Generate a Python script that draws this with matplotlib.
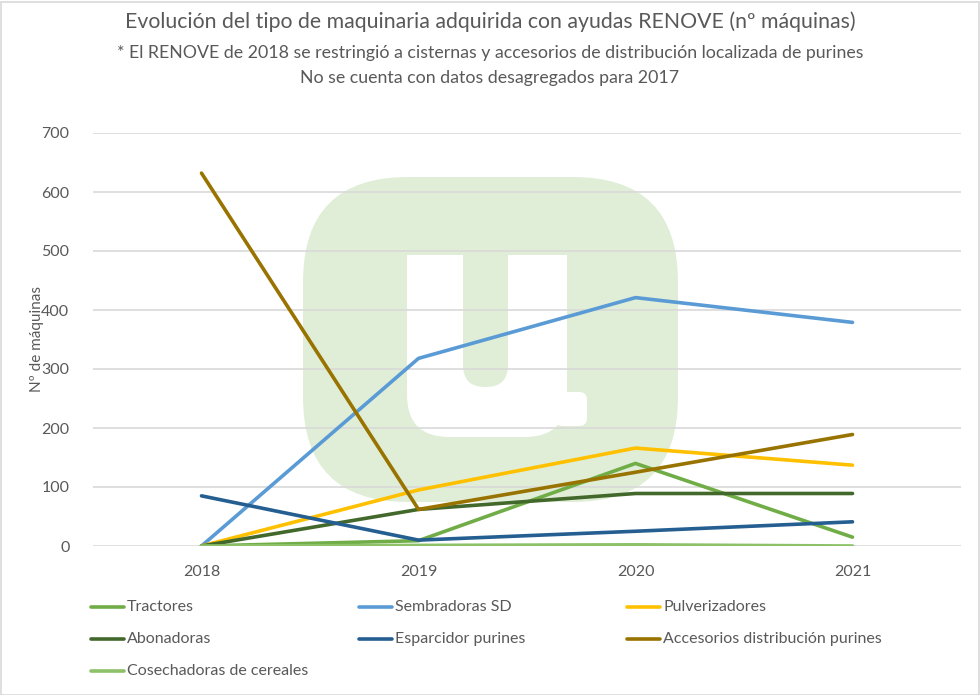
import matplotlib

matplotlib.use("Agg")
import matplotlib.pyplot as plt
from matplotlib.patches import FancyBboxPatch, Rectangle
from matplotlib.lines import Line2D
from matplotlib.transforms import IdentityTransform

years = ["2018", "2019", "2020", "2021"]

tractores = [0, 9, 140, 15]
sembradoras = [0, 318, 421, 379]
pulverizadores = [0, 95, 166, 137]
abonadoras = [0, 62, 89, 89]
esparcidor = [85, 10, 25, 41]
accesorios = [632, 62, 125, 189]
cosechadoras = [0, 1, 2, 0]

series = [
    ("Tractores", tractores, "#70AD47"),
    ("Sembradoras SD", sembradoras, "#5B9BD5"),
    ("Pulverizadores", pulverizadores, "#FFC000"),
    ("Abonadoras", abonadoras, "#43682B"),
    ("Esparcidor purines", esparcidor, "#255E91"),
    ("Accesorios distribución purines", accesorios, "#997300"),
    ("Cosechadoras de cereales", cosechadoras, "#8CC168"),
]

TXT = "#595959"
plt.rcParams["font.family"] = ["Lato", "DejaVu Sans"]

W, H = 980, 695
fig = plt.figure(figsize=(W / 100, H / 100), dpi=100)
ax = fig.add_axes([93 / W, 1 - 546 / H, (961 - 93) / W, (546 - 133) / H])
ax.patch.set_alpha(0)
ax.set_zorder(2)

ID = IdentityTransform()


def box(x0, y0, x1, y1, color, z, r=0):
    # image pixel box (y down) -> rounded patch in display coords
    x, y, w, h = x0, H - y1, x1 - x0, y1 - y0
    if r:
        p = FancyBboxPatch((x + r, y + r), w - 2 * r, h - 2 * r,
                           boxstyle=f"round,pad={r}", fc=color, ec="none",
                           transform=ID, zorder=z)
    else:
        p = Rectangle((x, y), w, h, fc=color, ec="none", transform=ID, zorder=z)
    fig.patches.append(p)


# faint logo watermark behind the plot
wm = "#E0EED8"
box(303, 177, 678, 502, wm, 0.0, r=105)
box(407, 205, 567, 437, "white", 0.1, r=42)
box(555, 392, 587, 426, "white", 0.1, r=8)
box(400, 195, 600, 255, wm, 0.2)
box(463, 230, 508, 387, wm, 0.3, r=22)

xs = list(range(len(years)))
for name, vals, col in series:
    ax.plot(xs, vals, color=col, lw=2.6, solid_capstyle="round",
            solid_joinstyle="round", zorder=3)

ax.set_xlim(-0.5, len(years) - 0.5)
ax.set_ylim(0, 700)
ax.set_yticks(range(0, 701, 100))
ax.set_xticks(xs)
ax.set_xticklabels(years)
ax.grid(axis="y", color="#D9D9D9", lw=1.2)
ax.set_axisbelow(True)
for s in ax.spines.values():
    s.set_visible(False)
ax.tick_params(length=0, labelsize=11.5, labelcolor=TXT)
ax.tick_params(axis="y", pad=17)
ax.tick_params(axis="x", pad=14)
ax.set_ylabel("Nº de máquinas", fontsize=11, color=TXT, labelpad=-2)

fig.text(0.5, 1 - 22 / H, "Evolución del tipo de maquinaria adquirida con ayudas RENOVE (nº máquinas)",
         ha="center", va="center", fontsize=15.3, color=TXT)
fig.text(0.5, 1 - 53 / H,
         "* El RENOVE de 2018 se restringió a cisternas y accesorios de distribución localizada de purines",
         ha="center", va="center", fontsize=12.8, color=TXT)
fig.text(0.5, 1 - 78 / H, "No se cuenta con datos desagregados para 2017",
         ha="center", va="center", fontsize=12.8, color=TXT)

# legend, three columns like Excel
col_x = [91, 359, 627]
row_y = [607, 639, 671]
for i, (name, vals, col) in enumerate(series):
    cx = col_x[i % 3]
    cy = H - row_y[i // 3]
    fig.add_artist(Line2D([cx, cx + 33], [cy, cy], color=col, lw=2.6,
                          solid_capstyle="round", transform=ID))
    fig.text((cx + 36) / W, cy / H, name, ha="left", va="center",
             fontsize=11.5, color=TXT)

fig.patches.append(Rectangle((0.5, 0.5), W - 2, H - 2, fc="none", ec="#D9D9D9",
                             lw=1.2, transform=ID, zorder=5))

fig.savefig("out.png", dpi=100)
